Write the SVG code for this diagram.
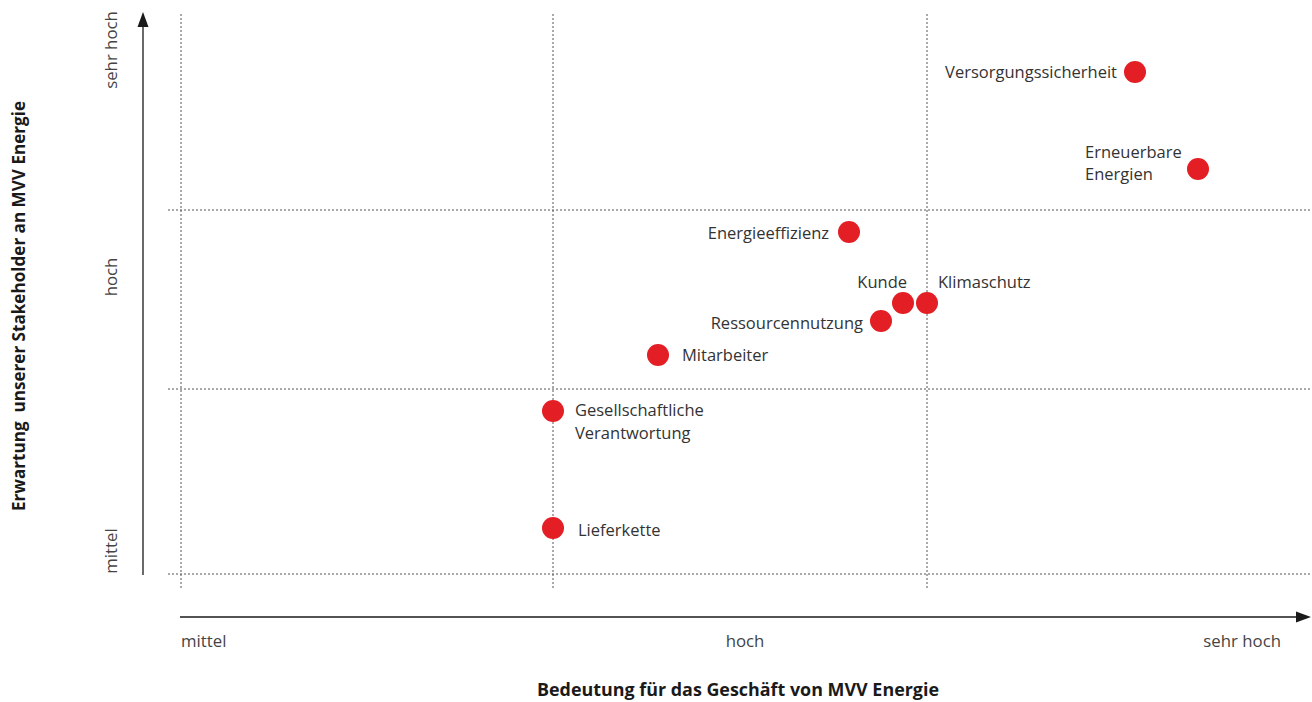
<svg xmlns="http://www.w3.org/2000/svg" width="1312" height="702" viewBox="0 0 1312 702">
<style>
.grid{stroke:#555;stroke-width:1;stroke-dasharray:2,2;fill:none}
.axis{stroke:#1a1a1a;stroke-width:1.3;fill:none}
.lbl{font-family:"Open Sans","Liberation Sans",sans-serif;font-size:16.5px;fill:#333}
.tick{font-family:"Open Sans","Liberation Sans",sans-serif;font-size:16.8px;fill:#444}
.title{font-family:"Open Sans","Liberation Sans",sans-serif;font-weight:bold;fill:#1a1a1a}
.dot{fill:#e31e24}
</style>
<rect width="1312" height="702" fill="#fff"/>
<g id="grid">
<line class="grid" x1="181" y1="14" x2="181" y2="590"/>
<line class="grid" x1="553" y1="14" x2="553" y2="590"/>
<line class="grid" x1="927" y1="14" x2="927" y2="590"/>
<line class="grid" x1="168" y1="210" x2="1310" y2="210"/>
<line class="grid" x1="168" y1="389" x2="1310" y2="389"/>
<line class="grid" x1="168" y1="574" x2="1310" y2="574"/>
</g>
<g id="connectors">
<line class="axis" x1="143" y1="575" x2="143" y2="26"/>
<polygon points="143,12 137.5,27 148.5,27" fill="#1a1a1a"/>
<line class="axis" x1="180" y1="617" x2="1296" y2="617"/>
<polygon points="1311,617 1296,611.5 1296,622.5" fill="#1a1a1a"/>
</g>
<g id="axis-labels">
<text class="tick" transform="translate(117,50) rotate(-90)" text-anchor="middle">sehr hoch</text>
<text class="tick" transform="translate(117,277) rotate(-90)" text-anchor="middle">hoch</text>
<text class="tick" transform="translate(117,551) rotate(-90)" text-anchor="middle">mittel</text>
<text class="tick" x="181" y="647">mittel</text>
<text class="tick" x="745" y="647" text-anchor="middle">hoch</text>
<text class="tick" x="1281" y="647" text-anchor="end">sehr hoch</text>
<text class="title" x="738" y="696" text-anchor="middle" font-size="17.9">Bedeutung für das Geschäft von MVV Energie</text>
<text class="title" transform="translate(25,306) rotate(-90)" text-anchor="middle" font-size="17.1" xml:space="preserve">Erwartung  unserer Stakeholder an MVV Energie</text>
</g>
<g id="versorgungssicherheit"><circle class="dot" cx="1135" cy="72" r="11"/><text class="lbl" x="1117" y="78" text-anchor="end">Versorgungssicherheit</text></g>
<g id="erneuerbare-energien"><circle class="dot" cx="1198" cy="169" r="11"/><text class="lbl" x="1085" y="158">Erneuerbare</text><text class="lbl" x="1085" y="180">Energien</text></g>
<g id="energieeffizienz"><circle class="dot" cx="849" cy="232" r="11"/><text class="lbl" x="829" y="239" text-anchor="end">Energieeffizienz</text></g>
<g id="kunde"><circle class="dot" cx="903" cy="303" r="11"/><text class="lbl" x="907" y="288" text-anchor="end">Kunde</text></g>
<g id="klimaschutz"><circle class="dot" cx="927" cy="303" r="11"/><text class="lbl" x="938" y="288">Klimaschutz</text></g>
<g id="ressourcennutzung"><circle class="dot" cx="881" cy="321" r="11"/><text class="lbl" x="863" y="329" text-anchor="end">Ressourcennutzung</text></g>
<g id="mitarbeiter"><circle class="dot" cx="658" cy="355" r="11"/><text class="lbl" x="682" y="361">Mitarbeiter</text></g>
<g id="gesellschaftliche-verantwortung"><circle class="dot" cx="553" cy="411" r="11"/><text class="lbl" x="575" y="416">Gesellschaftliche</text><text class="lbl" x="575" y="439">Verantwortung</text></g>
<g id="lieferkette"><circle class="dot" cx="553" cy="528" r="11"/><text class="lbl" x="578" y="536">Lieferkette</text></g>
</svg>
